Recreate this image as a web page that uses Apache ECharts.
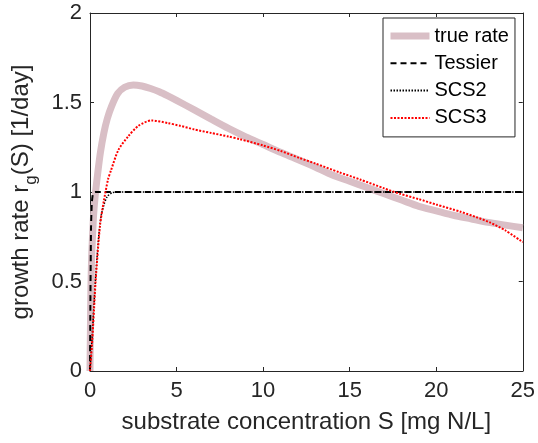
<!DOCTYPE html>
<html>
<head>
<meta charset="utf-8">
<script src="https://cdn.jsdelivr.net/npm/echarts@6/dist/echarts.min.js"></script>
<style>
  html, body { margin: 0; padding: 0; background: #fff; }
  #main { width: 538px; height: 443px; }
</style>
</head>
<body>
<div id="main"></div>
<script>
// values
const sTrue = [0, 0.02, 0.05, 0.1, 0.2, 0.3, 0.44, 0.6, 0.8, 1.0, 1.25, 1.6, 2.0, 2.5, 3, 3.5, 4, 4.5, 5, 6, 7, 8, 9, 10, 11, 12, 13, 14, 15, 16, 17, 18, 19, 20, 21, 22, 23, 24, 25]
const rTrue = [0, 0.2, 0.45, 0.65, 0.86, 0.98, 1.1, 1.22, 1.33, 1.41, 1.48, 1.55, 1.585, 1.598, 1.592, 1.578, 1.56, 1.537, 1.512, 1.46, 1.407, 1.355, 1.308, 1.265, 1.222, 1.182, 1.14, 1.095, 1.06, 1.025, 0.99, 0.955, 0.92, 0.895, 0.87, 0.85, 0.83, 0.815, 0.8]

const sTessier = [0, 0.02, 0.04, 0.06, 0.1, 0.15, 0.2, 0.3, 25]
const rTessier = [0, 0.35, 0.6, 0.8, 0.93, 0.98, 0.995, 1, 1]

const sScs2 = [0, 0.13, 0.23, 0.33, 0.5, 0.65, 0.81, 1.0, 1.3, 1.6, 25]
const rScs2 = [0, 0.2, 0.37, 0.53, 0.75, 0.87, 0.93, 0.975, 0.997, 1, 1]

const sScs3 = [0, 0.13, 0.23, 0.33, 0.58, 0.8, 1.04, 1.21, 1.64, 2.2, 2.8, 3.56, 4.5, 5.2, 6, 7, 8, 8.66, 10, 11, 12.1, 13, 14.4, 15.6, 17, 17.9, 19, 20, 21.4, 22.3, 23.1, 24, 25]
const rScs3 = [0, 0.17, 0.34, 0.51, 0.815, 0.95, 1.07, 1.12, 1.235, 1.31, 1.37, 1.4, 1.385, 1.37, 1.35, 1.33, 1.31, 1.295, 1.26, 1.23, 1.19, 1.16, 1.11, 1.07, 1.02, 0.99, 0.96, 0.93, 0.89, 0.86, 0.83, 0.785, 0.72]

const xTicks = [0, 5, 10, 15, 20, 25]
const yTicks = [0, 0.5, 1, 1.5, 2]

const pair = (xs, ys) => xs.map((x, i) => [x, ys[i]])

const axisColor = '#262626'
const trueColor = '#d9bfc6'
const font = 'Liberation Sans, Arial, sans-serif'

const chart = echarts.init(document.getElementById('main'), null, { renderer: 'canvas' })

const lineBase = {
  type: 'line',
  showSymbol: false,
  symbol: 'none',
  smooth: 0.25,
  animation: false,
  xAxisIndex: 0,
  yAxisIndex: 0
}

// frame axes: top and right copies, no labels
const frameTick = { show: true, inside: true, length: 4, lineStyle: { color: axisColor } }
const frameLine = { show: true, onZero: false, lineStyle: { color: axisColor, width: 1 } }

chart.setOption({
  animation: false,
  backgroundColor: '#fff',
  grid: { left: 90, right: 15, top: 13, bottom: 72, containLabel: false },
  legend: {
    orient: 'vertical',
    left: 383,
    top: 18,
    padding: [7, 6, 8, 4],
    itemWidth: 39,
    itemHeight: 14,
    itemGap: 5.3,
    backgroundColor: '#fff',
    borderColor: axisColor,
    borderWidth: 1,
    borderRadius: 0,
    itemStyle: { opacity: 0 },
    textStyle: { fontFamily: font, fontSize: 20, color: '#000', lineHeight: 22 },
    data: [
      { name: 'true rate', lineStyle: { width: 7, color: trueColor } },
      'Tessier', 'SCS2', 'SCS3'
    ]
  },
  xAxis: [{
    type: 'value',
    min: 0, max: 25, interval: 5,
    name: 'substrate concentration S [mg N/L]',
    nameLocation: 'middle',
    nameGap: 39,
    nameTextStyle: { fontFamily: font, fontSize: 24, color: axisColor },
    axisLine: frameLine,
    axisTick: frameTick,
    axisLabel: {
      fontFamily: font, fontSize: 22, color: axisColor, margin: 9,
      formatter: v => xTicks.includes(v) ? String(v) : ''
    },
    splitLine: { show: false }
  }, {
    type: 'value',
    position: 'top',
    min: 0, max: 25, interval: 5,
    axisLine: frameLine,
    axisTick: frameTick,
    axisLabel: { show: false },
    splitLine: { show: false }
  }],
  yAxis: [{
    type: 'value',
    min: 0, max: 2, interval: 0.5,
    // h is an invisible spacer that makes the line tall enough to drop the subscript
    name: '{h|\u200b}{a|growth rate r}{s|g}{a|(S) [1/day]}',
    nameLocation: 'middle',
    nameGap: 50,
    nameRotate: 90,
    nameTextStyle: {
      fontFamily: font, fontSize: 24, color: axisColor,
      rich: {
        h: { fontSize: 1, lineHeight: 31, width: 0 },
        a: { fontFamily: font, fontSize: 24, color: axisColor, lineHeight: 24, verticalAlign: 'top' },
        s: { fontFamily: font, fontSize: 17, color: axisColor, lineHeight: 17, verticalAlign: 'bottom' }
      }
    },
    axisLine: frameLine,
    axisTick: frameTick,
    axisLabel: {
      fontFamily: font, fontSize: 22, color: axisColor, margin: 8,
      formatter: v => yTicks.includes(v) ? String(v) : ''
    },
    splitLine: { show: false }
  }, {
    type: 'value',
    position: 'right',
    min: 0, max: 2, interval: 0.5,
    axisLine: frameLine,
    axisTick: frameTick,
    axisLabel: { show: false },
    splitLine: { show: false }
  }],
  series: [
    Object.assign({}, lineBase, {
      name: 'true rate',
      data: pair(sTrue, rTrue),
      lineStyle: { color: trueColor, width: 7 },
      itemStyle: { color: trueColor },
      z: 1
    }),
    Object.assign({}, lineBase, {
      name: 'Tessier',
      data: pair(sTessier, rTessier),
      lineStyle: { color: '#000', width: 2, type: [6, 4] },
      itemStyle: { color: '#000' },
      z: 2
    }),
    Object.assign({}, lineBase, {
      name: 'SCS2',
      data: pair(sScs2, rScs2),
      lineStyle: { color: '#000', width: 1.5, type: [1.5, 1.5] },
      itemStyle: { color: '#000' },
      z: 3
    }),
    Object.assign({}, lineBase, {
      name: 'SCS3',
      data: pair(sScs3, rScs3),
      lineStyle: { color: '#ff0000', width: 2, type: [2, 1.5] },
      itemStyle: { color: '#ff0000' },
      z: 4
    })
  ]
})
</script>
</body>
</html>
